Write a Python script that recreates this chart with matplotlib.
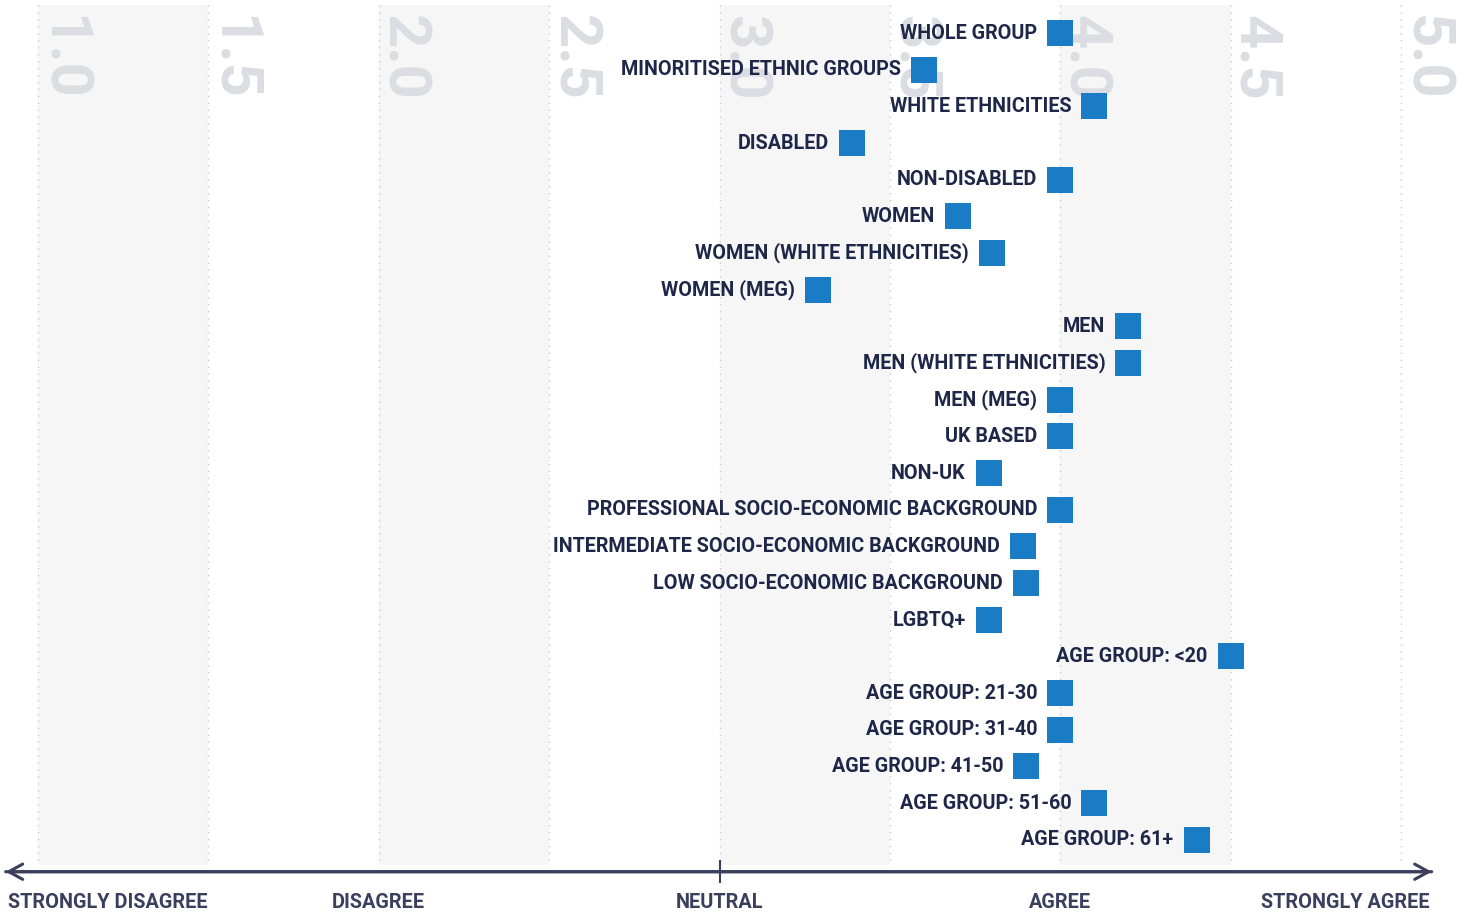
import matplotlib
matplotlib.use("Agg")
import matplotlib.pyplot as plt
from matplotlib.transforms import offset_copy

# Data
groups = [
    "WHOLE GROUP", "MINORITISED ETHNIC GROUPS", "WHITE ETHNICITIES", "DISABLED",
    "NON-DISABLED", "WOMEN", "WOMEN (WHITE ETHNICITIES)", "WOMEN (MEG)", "MEN",
    "MEN (WHITE ETHNICITIES)", "MEN (MEG)", "UK BASED", "NON-UK",
    "PROFESSIONAL SOCIO-ECONOMIC BACKGROUND", "INTERMEDIATE SOCIO-ECONOMIC BACKGROUND",
    "LOW SOCIO-ECONOMIC BACKGROUND", "LGBTQ+", "AGE GROUP: <20", "AGE GROUP: 21-30",
    "AGE GROUP: 31-40", "AGE GROUP: 41-50", "AGE GROUP: 51-60", "AGE GROUP: 61+",
]
scores = [4.00, 3.60, 4.10, 3.39, 4.00, 3.70, 3.80, 3.29, 4.20, 4.20, 4.00, 4.00, 3.79,
          4.00, 3.89, 3.90, 3.79, 4.50, 4.00, 4.00, 3.90, 4.10, 4.40]
scale_ticks = [1.0, 1.5, 2.0, 2.5, 3.0, 3.5, 4.0, 4.5, 5.0]
scale_labels = ["STRONGLY DISAGREE", "DISAGREE", "NEUTRAL", "AGREE", "STRONGLY AGREE"]
scale_label_pos = [None, 2.0, 3.0, 4.0, None]

navy = "#1f2748"
blue = "#1a7cc4"
band = "#f6f6f7"
numcol = "#dcdde3"
font = "Roboto"

fig = plt.figure(figsize=(14.59, 9.15), dpi=100)
ax = fig.add_axes([0, 0, 1, 1])
ax.set_xlim(0.8885, 5.170)
ax.set_ylim(24.05, -0.9)
ax.axis("off")

top, bottom = -0.76, 22.68
n = len(groups)

# alternating bands and dotted gridlines
for i in range(len(scale_ticks) - 1):
    if i % 2 == 0:
        ax.fill_between([scale_ticks[i], scale_ticks[i + 1]], top, bottom,
                        color=band, lw=0, zorder=0)
for t in scale_ticks:
    ax.plot([t, t], [top, bottom], color="#c9cacf", lw=1, ls=(0, (1, 4)), zorder=1)
    tr = offset_copy(ax.transData, fig=fig, x=-4, y=-10, units="dots")
    ax.text(t, top, f"{t:.1f}", transform=tr, rotation=-90, ha="left", va="top",
            fontsize=43, fontweight="bold", color=numcol, family=font, zorder=1)

# markers and labels
ypos = list(range(n))
ax.scatter(scores, ypos, marker="s", s=355, color=blue, lw=0, zorder=3)
for g, v, y in zip(groups, scores, ypos):
    ax.annotate(g, (v, y), xytext=(-23, 0), textcoords="offset pixels",
                ha="right", va="center", fontsize=14.2, fontweight="bold",
                color=navy, family=font, zorder=4)

# scale arrow
ay = 22.87
arrow_col = "#3b3f5e"
for a, b in [(0.905, 5.09), (5.09, 0.905)]:
    ax.annotate("", xy=(a, ay), xytext=(b, ay),
                arrowprops=dict(arrowstyle="->,head_length=1.0,head_width=0.55",
                                color=arrow_col, lw=2.2, shrinkA=0, shrinkB=0))
ax.plot([3.0, 3.0], [ay - 0.28, ay + 0.28], color=arrow_col, lw=1.5)

ly = 23.72
for lab, pos in zip(scale_labels, scale_label_pos):
    if pos is None:
        if lab.startswith("STRONGLY D"):
            x, ha = 0.912, "left"
        else:
            x, ha = 5.085, "right"
    else:
        x, ha = pos, "center"
    ax.text(x, ly, lab, ha=ha, va="center", fontsize=14.3,
            fontweight="bold", color=arrow_col, family=font)

fig.savefig("out.png", dpi=100)
